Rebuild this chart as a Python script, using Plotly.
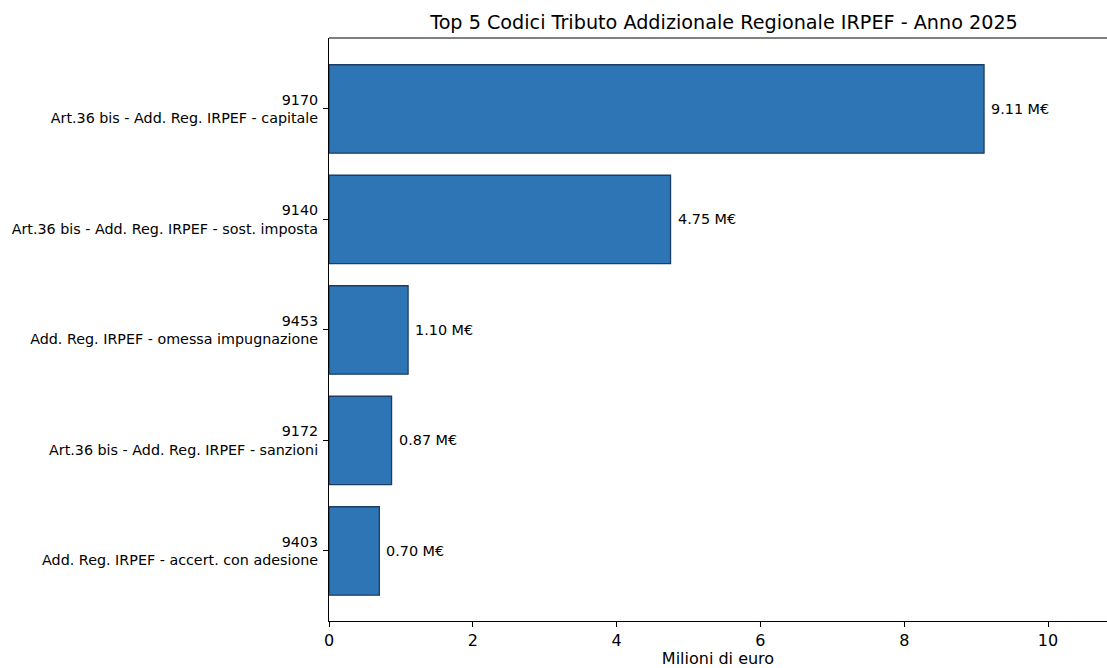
import plotly.graph_objects as go

codes = ["9170", "9140", "9453", "9172", "9403"]
descriptions = [
    "Art.36 bis - Add. Reg. IRPEF - capitale",
    "Art.36 bis - Add. Reg. IRPEF - sost. imposta",
    "Add. Reg. IRPEF - omessa impugnazione",
    "Art.36 bis - Add. Reg. IRPEF - sanzioni",
    "Add. Reg. IRPEF - accert. con adesione",
]
values_meur = [9.11, 4.75, 1.10, 0.87, 0.70]
x_ticks = [0, 2, 4, 6, 8, 10]

ypos = list(range(len(codes)))
ticktext = [f"{c}<br>{d}" for c, d in zip(codes, descriptions)]

FONT = "DejaVu Sans"

fig = go.Figure()
fig.add_trace(go.Bar(
    x=values_meur,
    y=ypos,
    orientation="h",
    width=0.8,
    marker=dict(color="#2e75b5", line=dict(color="#1c3d63", width=1.3)),
    hoverinfo="skip",
))

for v, y in zip(values_meur, ypos):
    fig.add_annotation(
        x=v, y=y, xref="x", yref="y",
        text=f"{v:.2f} M€",
        showarrow=False, xanchor="left", yanchor="middle",
        xshift=5,
        font=dict(family=FONT, size=14.4, color="#000000"),
    )

fig.update_layout(
    width=1107, height=668,
    margin=dict(l=329, r=0, t=38, b=47),
    paper_bgcolor="white", plot_bgcolor="white",
    showlegend=False,
    font=dict(family=FONT, color="#000000"),
    title=dict(
        text="Top 5 Codici Tributo Addizionale Regionale IRPEF - Anno 2025",
        x=(724 - 329) / 778, xref="paper", xanchor="center",
        y=1 - 22 / 668, yref="container", yanchor="middle",
        font=dict(family=FONT, size=19.2, color="#000000"),
    ),
    xaxis=dict(
        range=[0, 10.82],
        tickvals=x_ticks,
        ticktext=[str(t) for t in x_ticks],
        ticks="outside", ticklen=5, tickwidth=1, tickcolor="#000",
        showgrid=False, zeroline=False,
        showline=True, linecolor="#000", linewidth=1, mirror=False,
        tickfont=dict(family=FONT, size=16, color="#000"),
        title=dict(text="Milioni di euro", font=dict(family=FONT, size=16, color="#000"), standoff=4),
    ),
    yaxis=dict(
        range=[4.634, -0.642],
        tickvals=ypos,
        ticktext=ticktext,
        ticks="outside", ticklen=5, tickwidth=1, tickcolor="#000",
        ticklabelstandoff=2,
        showgrid=False, zeroline=False,
        showline=True, linecolor="#000", linewidth=1,
        tickfont=dict(family=FONT, size=14.3, color="#000"),
    ),
)
# top spine
fig.add_shape(type="line", xref="paper", yref="paper", x0=0, x1=1, y0=1, y1=1,
              line=dict(color="#000", width=1))

fig.write_html("out.html", config={"displayModeBar": False},
               post_script="document.body.style.margin='0';")
